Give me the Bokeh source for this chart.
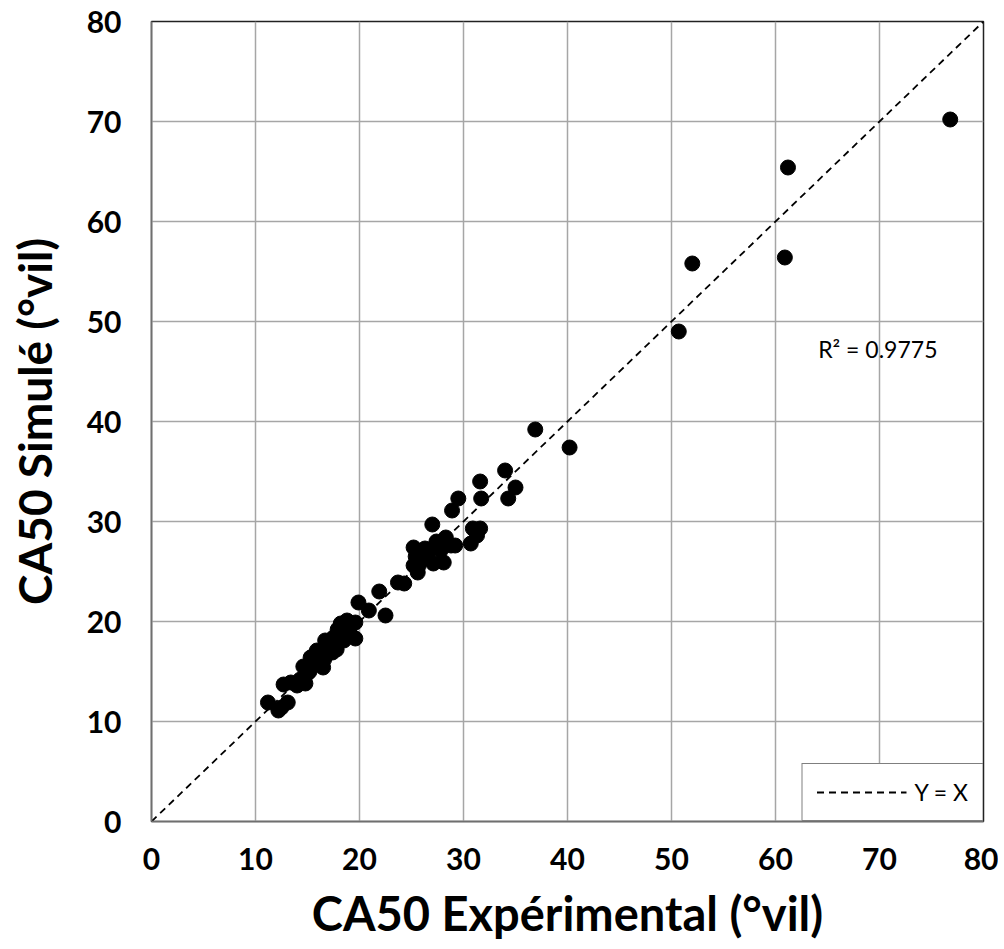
from bokeh.plotting import figure
from bokeh.models import Label, Range1d, FixedTicker, Legend, LegendItem
from bokeh.embed import file_html
from bokeh.resources import INLINE

# Experimental vs simulated CA50 (°vil)
ca50_exp = [11.2, 12.2, 12.5, 13.1, 12.7, 13.4, 14.0, 14.8, 14.3, 15.0, 15.3, 15.5,
            15.8, 15.9, 16.2, 16.5, 16.0, 16.7, 17.0, 17.3, 17.5, 17.8, 18.0, 18.2,
            18.5, 18.8, 18.3, 19.0, 19.3, 19.6, 19.6, 19.9, 20.9, 21.9, 22.5, 23.7,
            24.3, 25.6, 25.2, 25.7, 25.4, 25.2, 26.0, 26.5, 27.1, 26.8, 27.0, 27.4,
            27.8, 28.1, 28.3, 28.8, 29.2, 28.9, 29.5, 30.7, 30.9, 31.3, 31.6, 31.6,
            31.7, 34.0, 34.3, 35.0, 36.9, 40.2, 50.7, 52.0, 60.9, 61.2, 76.8,
            14.6, 15.2, 16.9, 17.4, 18.6, 17.9, 16.3, 26.3, 27.6, 25.8, 15.6, 16.6]
ca50_sim = [11.9, 11.1, 11.4, 11.9, 13.7, 13.9, 13.6, 13.8, 14.2, 14.8, 16.4, 15.6,
            16.0, 17.1, 16.4, 15.4, 15.9, 18.1, 16.8, 17.5, 18.4, 17.2, 18.9, 19.8,
            18.1, 20.1, 19.3, 19.0, 18.5, 19.9, 18.3, 21.9, 21.1, 23.0, 20.6, 23.9,
            23.8, 24.9, 25.6, 25.6, 26.5, 27.4, 26.2, 26.6, 25.8, 27.2, 29.7, 28.0,
            27.1, 25.9, 28.4, 27.6, 27.6, 31.1, 32.3, 27.8, 29.3, 28.6, 29.3, 34.0,
            32.3, 35.1, 32.3, 33.4, 39.2, 37.4, 49.0, 55.8, 56.4, 65.4, 70.2,
            15.5, 15.0, 17.6, 16.9, 19.5, 19.2, 17.0, 27.3, 27.8, 26.8, 16.6, 16.2]
identity_line = [0, 80]
axis_ticks = [0, 10, 20, 30, 40, 50, 60, 70, 80]
r2_text = "R² = 0.9775"

FONT = "Lato"

p = figure(frame_width=832, frame_height=800,
           min_border_left=151, min_border_top=21, min_border_right=15, min_border_bottom=120,
           x_range=Range1d(0, 80), y_range=Range1d(0, 80),
           output_backend="svg", toolbar_location=None)

p.outline_line_color = "#222222"
p.outline_line_width = 1.5

for ax in (p.xaxis[0], p.yaxis[0]):
    ax.ticker = FixedTicker(ticks=axis_ticks)
    ax.major_tick_in = 0
    ax.major_tick_out = 0
    ax.minor_tick_in = 0
    ax.minor_tick_out = 0
    ax.axis_line_color = "#6f6f6f"
    ax.axis_line_width = 1.5
    ax.major_label_text_font = FONT
    ax.major_label_text_font_style = "bold"
    ax.major_label_text_font_size = "30px"
    ax.major_label_text_color = "black"
    ax.axis_label_text_font = FONT
    ax.axis_label_text_font_style = "bold"
    ax.axis_label_text_color = "black"

p.xaxis.axis_label = "CA50 Expérimental (°vil)"
p.yaxis.axis_label = "CA50 Simulé (°vil)"
p.xaxis.axis_label_text_font_size = "47px"
p.yaxis.axis_label_text_font_size = "46px"
p.xaxis.major_label_standoff = 26
p.yaxis.major_label_standoff = 30
p.xaxis.axis_label_standoff = 12
p.yaxis.axis_label_standoff = 22

p.xgrid.grid_line_color = "#a6a6a6"
p.ygrid.grid_line_color = "#a6a6a6"
p.xgrid.grid_line_width = 1.5
p.ygrid.grid_line_width = 1.5
p.xgrid.ticker = FixedTicker(ticks=axis_ticks)
p.ygrid.ticker = FixedTicker(ticks=axis_ticks)

ln = p.line(identity_line, identity_line, line_color="black", line_width=1.8, line_dash="7 5")
p.scatter(ca50_exp, ca50_sim, size=15, fill_color="black", line_color="black", marker="circle")

p.add_layout(Label(x=64.1, y=47.3, text=r2_text, text_font=FONT, text_font_size="23px",
                   text_baseline="middle", text_color="black"))

legend = Legend(items=[LegendItem(label="Y = X", renderers=[ln])], location="bottom_right",
                margin=0, padding=14, glyph_width=90, glyph_height=20, label_standoff=8,
                border_line_color="black", border_line_width=1.5,
                label_text_font=FONT, label_text_font_size="23px", label_text_color="black",
                background_fill_color="white", background_fill_alpha=1.0)
p.add_layout(legend, "center")

open("out.html", "w").write(file_html(p, INLINE))
